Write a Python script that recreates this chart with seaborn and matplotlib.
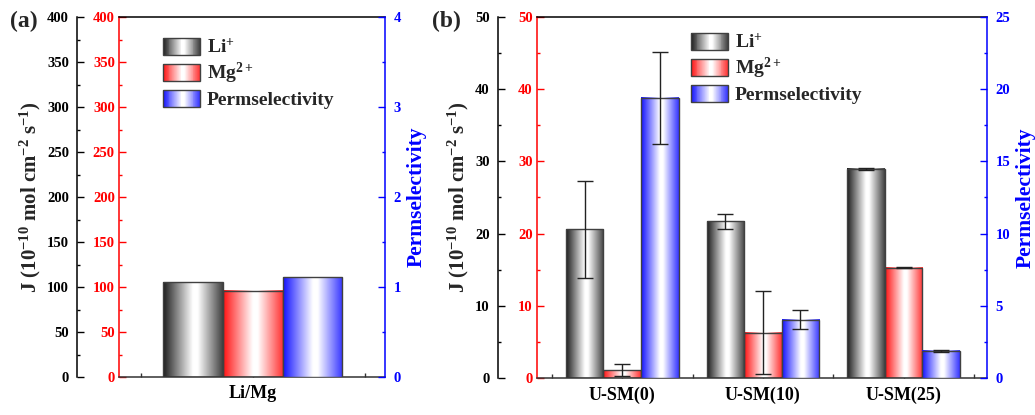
import numpy as np
import pandas as pd
import matplotlib
matplotlib.use("Agg")
import matplotlib.pyplot as plt
import matplotlib.ticker as mticker
from matplotlib.colors import LinearSegmentedColormap
from matplotlib.patches import Patch, Rectangle
from matplotlib.legend_handler import HandlerBase
from matplotlib.container import BarContainer
import seaborn as sns

# ─── Data ───────────────────────────────────────────────────────
HUES = ["Li+", "Mg2+", "Permselectivity"]
LEGEND_LABELS = ["Li$^{+}$", "Mg$^{2+}$", "Permselectivity"]

cats_a = ["Li/Mg"]
li_a = [105.5]
mg_a = [95.7]
perm_a = [1.108]

cats_b = ["U-SM(0)", "U-SM(10)", "U-SM(25)"]
li_b = [20.6, 21.7, 29.0]
li_b_err = [6.7, 1.0, 0.15]
mg_b = [1.1, 6.3, 15.3]
mg_b_err = [0.8, 5.7, 0.1]
perm_b = [19.4, 4.03, 1.87]
perm_b_err = [3.2, 0.66, 0.1]

# ─── Style ──────────────────────────────────────────────────────
sns.set_style("ticks")
plt.rcParams.update({
    "font.family": ["Liberation Serif", "DejaVu Serif"],
    "font.weight": "bold",
    "axes.labelweight": "bold",
    "mathtext.default": "regular",
    "axes.linewidth": 1.1,
})

PAL = {"Li+": "#222222", "Mg2+": "#ff1a1a", "Permselectivity": "#1a1aff"}
CMAPS = {
    "Li+": LinearSegmentedColormap.from_list(
        "li", [(0, "#1c1c1c"), (0.5, "#ffffff"), (0.58, "#ffffff"), (1, "#404040")]),
    "Mg2+": LinearSegmentedColormap.from_list(
        "mg", [(0, "#ff1010"), (0.5, "#ffffff"), (0.58, "#ffffff"), (1, "#ff3333")]),
    "Permselectivity": LinearSegmentedColormap.from_list(
        "pm", [(0, "#1010ff"), (0.5, "#ffffff"), (0.58, "#ffffff"), (1, "#3333ff")]),
}
EDGE = "#404040"
GRAD = np.linspace(0, 1, 256).reshape(1, -1)


class GradHandler(HandlerBase):
    def __init__(self, cmap):
        super().__init__()
        self.cmap = cmap

    def create_artists(self, legend, orig_handle, xdescent, ydescent,
                       width, height, fontsize, trans):
        n = 40
        arts = []
        for i in range(n):
            arts.append(Rectangle((-xdescent + i * width / n, -ydescent),
                                  width / n * 1.08, height,
                                  facecolor=self.cmap((i + 0.5) / n),
                                  edgecolor="none", transform=trans))
        arts.append(Rectangle((-xdescent, -ydescent), width, height, fill=False,
                              edgecolor=EDGE, linewidth=1, transform=trans))
        return arts


def bar_groups(ax):
    return [c for c in ax.containers if isinstance(c, BarContainer) and len(c) > 0]


def shade(ax, hues):
    for container, hue in zip(bar_groups(ax), hues):
        for bar in container:
            x0, w, h = bar.get_x(), bar.get_width(), bar.get_height()
            ax.imshow(GRAD, cmap=CMAPS[hue], extent=[x0, x0 + w, 0, h],
                      aspect="auto", zorder=0.9, interpolation="bilinear")
            bar.set_facecolor("none")


def add_err(ax, container, errs):
    if errs is None:
        return
    xs = [b.get_x() + b.get_width() / 2 for b in container]
    ys = [b.get_height() for b in container]
    ax.errorbar(xs, ys, yerr=errs, fmt="none", ecolor="#222222",
                elinewidth=1, capsize=5.5, capthick=1, zorder=3)


def draw_panel(fig, rect, cats, li, mg, perm, li_err, mg_err, perm_err,
               jmax, jstep, pmax, pstep, offset, xlim, legend_xy):
    n = len(cats)
    df_j = pd.DataFrame({"sample": cats * 2,
                         "ion": ["Li+"] * n + ["Mg2+"] * n,
                         "J": li + mg})
    df_p = pd.DataFrame({"sample": cats, "ion": ["Permselectivity"] * n, "P": perm})

    ax = fig.add_axes(rect)
    ax_k = ax.twinx()
    ax_r = ax.twinx()

    sns.barplot(data=df_j, x="sample", y="J", hue="ion", hue_order=HUES,
                order=cats, palette=PAL, width=0.8, dodge=True, errorbar=None,
                edgecolor=EDGE, linewidth=1, legend=False, ax=ax)
    sns.barplot(data=df_p, x="sample", y="P", hue="ion", hue_order=HUES,
                order=cats, palette=PAL, width=0.8, dodge=True, errorbar=None,
                edgecolor=EDGE, linewidth=1, legend=False, ax=ax_r)

    shade(ax, ["Li+", "Mg2+"])
    shade(ax_r, ["Permselectivity"])
    g_j = bar_groups(ax)
    g_p = bar_groups(ax_r)
    add_err(ax, g_j[0], li_err)
    add_err(ax, g_j[1], mg_err)
    add_err(ax_r, g_p[0], perm_err)

    ax.set_xlim(*xlim)
    ax.set_ylim(0, jmax)
    ax_k.set_ylim(0, jmax)
    ax_r.set_ylim(0, pmax)

    # spines
    ax.spines["left"].set_color("red")
    ax.spines["right"].set_visible(False)
    ax.spines["top"].set_color("black")
    ax.spines["bottom"].set_color("#333333")
    for s in ["right", "top", "bottom"]:
        ax_k.spines[s].set_visible(False)
    ax_k.spines["left"].set_visible(True)
    ax_k.spines["left"].set_position(("outward", offset))
    ax_k.spines["left"].set_color("black")
    ax_k.yaxis.set_ticks_position("left")
    ax_k.yaxis.set_label_position("left")
    for s in ["left", "top", "bottom"]:
        ax_r.spines[s].set_visible(False)
    ax_r.spines["right"].set_color("blue")

    # y ticks
    for a, col, step, pad in [(ax, "red", jstep, 3), (ax_k, "black", jstep, 6),
                              (ax_r, "blue", pstep, 6)]:
        a.yaxis.set_major_locator(mticker.MultipleLocator(step))
        a.yaxis.set_minor_locator(mticker.MultipleLocator(step / 2))
        a.tick_params(axis="y", which="both", direction="in", colors=col,
                      labelsize=10.5, pad=pad, width=1)
        a.tick_params(axis="y", which="major", length=5)
        a.tick_params(axis="y", which="minor", length=2.5)

    # x ticks
    ax.set_xticks(range(n))
    ax.set_xticklabels(cats)
    ax.set_xticks([i - 0.5 for i in range(n + 1)], minor=True)
    ax.tick_params(axis="x", which="both", direction="in", top=False,
                   colors="#333333", width=1)
    ax.tick_params(axis="x", which="major", length=5, labelsize=13,
                   labelcolor="black", pad=6)
    ax.tick_params(axis="x", which="minor", length=3)

    ax.set_xlabel("")
    ax.set_ylabel("")
    ax_r.set_xlabel("")
    ax_k.set_ylabel("J (10$^{-10}$ mol cm$^{-2}$ s$^{-1}$)", fontsize=15,
                    labelpad=3)
    ax_r.set_ylabel("Permselectivity", color="blue", fontsize=15.5, labelpad=4)

    handles = [Patch(label=l) for l in LEGEND_LABELS]
    hmap = {h: GradHandler(CMAPS[k]) for h, k in zip(handles, HUES)}
    ax_r.legend(handles, LEGEND_LABELS, handler_map=hmap, loc="upper left",
                bbox_to_anchor=(legend_xy[0] / 1035, 1 - legend_xy[1] / 415),
                bbox_transform=fig.transFigure, frameon=False, fontsize=14,
                handlelength=1.9, handleheight=0.95, handletextpad=0.35,
                labelspacing=0.2, borderaxespad=0, borderpad=0)
    return ax


fig = plt.figure(figsize=(10.35, 4.15), dpi=100)

draw_panel(fig, [119 / 1035, 1 - 377 / 415, 266 / 1035, 360 / 415],
           cats_a, li_a, mg_a, perm_a, None, None, None,
           400, 50, 4, 1, 30, (-0.597, 0.59), (163, 38))
draw_panel(fig, [537 / 1035, 1 - 378 / 415, 450 / 1035, 361 / 415],
           cats_b, li_b, mg_b, perm_b, li_b_err, mg_b_err, perm_b_err,
           50, 10, 25, 5, 28, (-0.606, 2.593), (691, 33))

fig.text(10 / 1035, 1 - 21 / 415, "(a)", fontsize=17, va="center", ha="left")
fig.text(432 / 1035, 1 - 21 / 415, "(b)", fontsize=17, va="center", ha="left")

fig.savefig("out.png", dpi=100)
